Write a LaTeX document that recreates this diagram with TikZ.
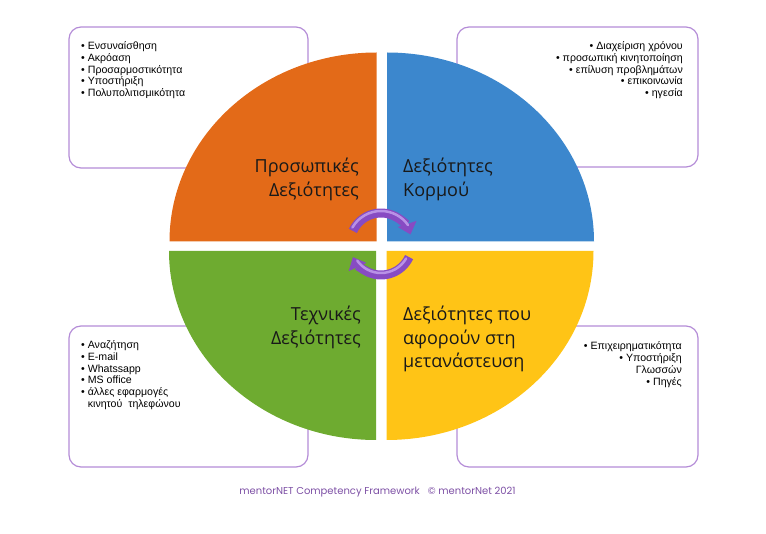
\documentclass[tikz,border=0pt]{standalone}
\usepackage{fontspec}
\setmainfont{Liberation Sans}
\newfontfamily\qfont{Open Sans}
\newfontfamily\footfont{Poppins}
\usetikzlibrary{arrows.meta}
\definecolor{qorange}{RGB}{227,106,24}
\definecolor{qblue}{RGB}{60,135,205}
\definecolor{qgreen}{RGB}{110,171,48}
\definecolor{qyellow}{RGB}{255,196,22}
\definecolor{boxpurple}{RGB}{180,140,215}
\definecolor{arrpurple}{RGB}{135,75,195}
\definecolor{arrlight}{RGB}{185,145,230}
\definecolor{footpurple}{RGB}{125,80,165}
\begin{document}
\begin{tikzpicture}[x=1pt,y=1pt,
  listbox/.style={draw=boxpurple, line width=1.2pt, rounded corners=12pt},
  listtext/.style={inner sep=0pt, font=\fontsize{10.6}{11.8}\selectfont},
  qlabel/.style={inner sep=0pt, font=\qfont\fontsize{18}{23.5}\selectfont, text=black!90},
  arr/.style={draw=arrpurple, line width=9pt, -{Triangle[width=19pt,length=11pt]}}]
\useasboundingbox (0,0) rectangle (766,533);
% list boxes
\draw[listbox] (69,506) rectangle (308,365);
\draw[listbox] (457,506) rectangle (698,366);
\draw[listbox] (69,207) rectangle (308,66);
\draw[listbox] (457,207) rectangle (698,66);
% quadrants
\fill[qorange] (376.5,291.5) -- ++(-207,0) arc[start angle=180,end angle=90,x radius=207,y radius=189] -- cycle;
\fill[qblue] (387,291.5) -- ++(207,0) arc[start angle=0,end angle=90,x radius=207,y radius=189] -- cycle;
\fill[qgreen] (376,282) -- ++(-207,0) arc[start angle=180,end angle=270,x radius=207,y radius=189] -- cycle;
\fill[qyellow] (386.5,282) -- ++(207,0) arc[start angle=0,end angle=-90,x radius=207,y radius=189] -- cycle;
% lists
\node[listtext, anchor=base west] (tl) at (81,483.5) {\begin{tabular}[t]{@{}l@{\ }l@{}}
• & Ενσυναίσθηση\\
• & Ακρόαση\\
• & Προσαρμοστικότητα\\
• & Υποστήριξη\\
• & Πολυπολιτισμικότητα
\end{tabular}};
\node[listtext, anchor=base east] (tr) at (683,483.5) {\begin{tabular}[t]{@{}r@{}}
• Διαχείριση χρόνου\\
• προσωπική κινητοποίηση\\
• επίλυση προβλημάτων\\
• επικοινωνία\\
• ηγεσία
\end{tabular}};
\node[listtext, anchor=base west] (bl) at (81,184.5) {\begin{tabular}[t]{@{}l@{\ }l@{}}
• & Αναζήτηση\\
• & E-mail\\
• & Whatssapp\\
• & MS office\\
• & άλλες εφαρμογές\\
  & κινητού\ \ τηλεφώνου
\end{tabular}};
\node[listtext, anchor=base east] (br) at (682,183) {\begin{tabular}[t]{@{}r@{}}
• Επιχειρηματικότητα\\
• Υποστήριξη\\
Γλωσσών\\
• Πηγές
\end{tabular}};
% quadrant labels
\node[qlabel, anchor=base east] (ql1) at (359,360) {\begin{tabular}[t]{@{}r@{}}Προσωπικές\\Δεξιότητες\end{tabular}};
\node[qlabel, anchor=base west] (ql2) at (403,360) {\begin{tabular}[t]{@{}l@{}}Δεξιότητες\\Κορμού\end{tabular}};
\node[qlabel, anchor=base east] (ql3) at (361,212) {\begin{tabular}[t]{@{}r@{}}Τεχνικές\\Δεξιότητες\end{tabular}};
\node[qlabel, anchor=base west] (ql4) at (403,212) {\begin{tabular}[t]{@{}l@{}}Δεξιότητες που\\αφορούν στη\\μετανάστευση\end{tabular}};
% cycle arrows
\coordinate (c) at (381,289);
\draw[arr] (c) ++(155:31) arc[start angle=155,end angle=18,radius=31];
\draw[arr] (c) ++(-25:31) arc[start angle=-25,end angle=-155,radius=31];
\draw[arrlight, line width=2.5pt, line cap=round] (c) ++(150:33) arc[start angle=150,end angle=35,radius=33];
\draw[arrlight, line width=2.5pt, line cap=round] (c) ++(-30:29) arc[start angle=-30,end angle=-145,radius=29];
% footer
\node[inner sep=0pt, font=\footfont\fontsize{10}{12}\selectfont, text=footpurple, anchor=base] (foot) at (377.5,38) {mentorNET Competency Framework\ \ \ © mentorNet 2021};
\end{tikzpicture}
\end{document}
